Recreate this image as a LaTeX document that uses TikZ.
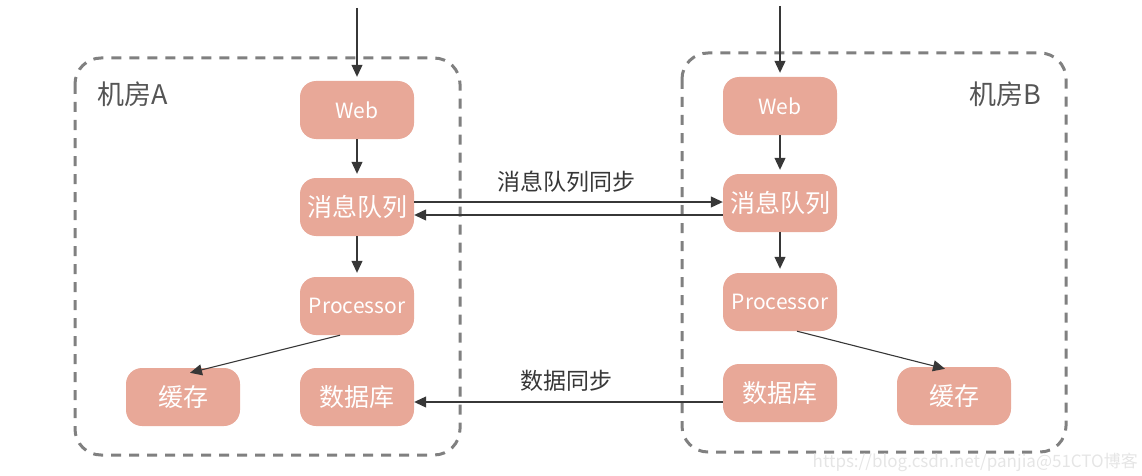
\documentclass[tikz,border=0pt]{standalone}
\usepackage{fontspec}
\setmainfont{Noto Sans CJK SC}
\usepackage{tikz}
\usetikzlibrary{calc}
\usetikzlibrary{arrows.meta}

\definecolor{boxfill}{RGB}{232,168,152}
\definecolor{linegray}{RGB}{55,55,55}
\definecolor{roomgray}{RGB}{128,128,128}

\begin{document}
\begin{tikzpicture}[x=1pt,y=-1pt,
  every node/.style={inner sep=0pt},
  svc/.style={fill=boxfill,rounded corners=16pt,minimum width=114pt,
    minimum height=58pt,text=white,font=\fontsize{25}{25}\selectfont},
  lat/.style={font=\fontsize{21}{21}\selectfont},
  room/.style={draw=roomgray,line width=3pt,rounded corners=26pt,
    dash pattern=on 10pt off 8pt},
  lbl/.style={text=linegray!85,font=\fontsize{23}{23}\selectfont},
  flow/.style={draw=linegray,line width=1.1pt,
    -{Triangle[length=12pt,width=11pt]}},
  gap/.style={shorten >=4pt}]
  \useasboundingbox (0,0) rectangle (1142,476);
  \draw[room] (75,58) rectangle (460,455);
  \draw[room] (682,53) rectangle (1066,452);
  \node[lbl,font=\fontsize{27}{27}\selectfont] (roomA) at (133,94) {机房A};
  \node[lbl,font=\fontsize{27}{27}\selectfont] (roomB) at (1005,94) {机房B};
  % room A
  \node[svc,lat] (webA) at (357,110) {Web};
  \node[svc] (mqA) at (357,207) {消息队列};
  \node[svc,lat] (procA) at (357,306) {Processor};
  \node[svc] (cacheA) at (183,397) {缓存};
  \node[svc] (dbA) at (357,397) {数据库};
  % room B
  \node[svc,lat] (webB) at (780,106) {Web};
  \node[svc] (mqB) at (780,203) {消息队列};
  \node[svc,lat] (procB) at (780,302) {Processor};
  \node[svc] (dbB) at (780,393) {数据库};
  \node[svc] (cacheB) at (954,396) {缓存};
  \coordinate (inA) at (357,8);
  \coordinate (inB) at (780,6);
  \draw[flow,gap] (inA) -- (webA);
  \draw[flow,gap] (webA) -- (mqA);
  \draw[flow,gap] (mqA) -- (procA);
  \draw[flow,gap] (inB) -- (webB);
  \draw[flow,gap] (webB) -- (mqB);
  \draw[flow,gap] (mqB) -- (procB);
  \draw[flow] ([xshift=-17pt]procA.south) -- ([xshift=7pt,yshift=-5pt]cacheA.north);
  \draw[flow] ([xshift=17pt]procB.south) -- ([xshift=-9pt,yshift=-2pt]cacheB.north);
  % sync between rooms
  \draw[flow] ([yshift=5pt]mqA.east) -- ([yshift=5pt]mqA.east -| mqB.west);
  \draw[flow] ([yshift=-8pt]mqA.east -| mqB.west) -- ([yshift=-8pt]mqA.east);
  \draw[flow] ([yshift=-5pt]dbA.east -| dbB.west) -- ([yshift=-5pt]dbA.east);
  \node[lbl,text=linegray] (mqSync) at (566,182) {消息队列同步};
  \node[lbl,text=linegray] (dbSync) at (566,381) {数据同步};
  \node[text=black!10,font=\fontsize{17}{17}\selectfont,anchor=east] (mark) at (1138,462) {https://blog.csdn.net/panjia@51CTO博客};
\end{tikzpicture}
\end{document}
